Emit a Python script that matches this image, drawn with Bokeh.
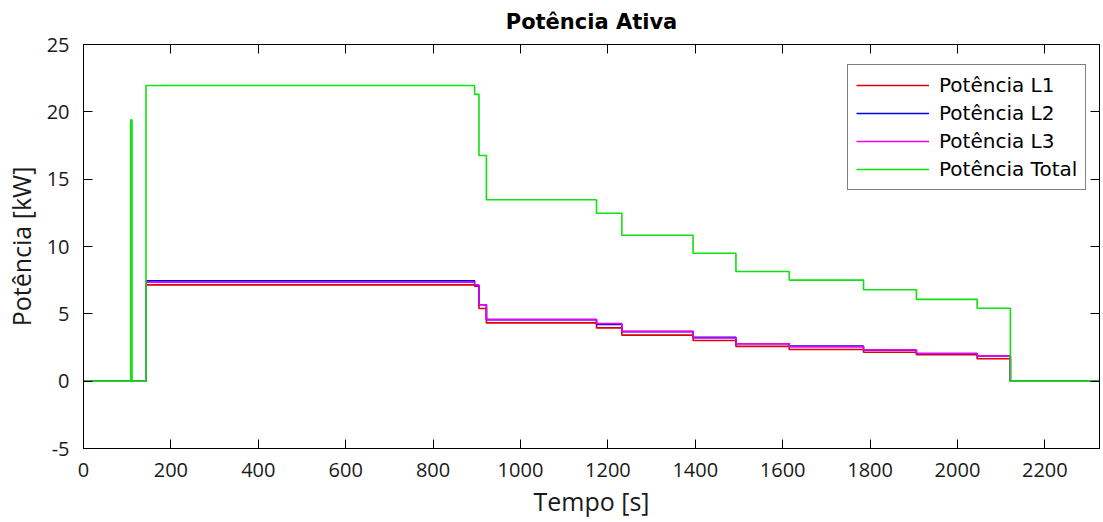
from bokeh.plotting import figure
from bokeh.models import (Legend, LegendItem, LinearAxis, SingleIntervalTicker, Range1d,
                          CustomJSTickFormatter)
from bokeh.embed import file_html
from bokeh.resources import INLINE

# Step change times [s] and levels [kW]
t = [0, 108, 111, 143, 895, 905, 922, 1174, 1232, 1395, 1493, 1615, 1785, 1906, 2045, 2121, 2325]
total = [0, 19.4, 0, 21.95, 21.3, 16.76, 13.47, 12.47, 10.83, 9.5, 8.14, 7.5, 6.79, 6.07, 5.42, 0, 0]
l1 = [0, 0, 0, 7.15, 7.05, 5.4, 4.33, 3.96, 3.42, 3.02, 2.58, 2.35, 2.15, 1.96, 1.66, 0, 0]
l2 = [0, 0, 0, 7.45, 7.1, 5.68, 4.57, 4.22, 3.68, 3.25, 2.78, 2.6, 2.3, 2.05, 1.88, 0, 0]
l3 = [0, 0, 0, 7.35, 7.15, 5.68, 4.57, 4.28, 3.7, 3.2, 2.78, 2.55, 2.32, 2.06, 1.88, 0, 0]

names = ["Potência L1", "Potência L2", "Potência L3", "Potência Total"]
colors = ["#e00000", "#0000ee", "#ee00ee", "#11e011"]

TICK_FONT = "Open Sans"

p = figure(width=1103, height=522, output_backend="svg", toolbar_location=None,
           x_range=Range1d(0, 2325), y_range=Range1d(-5, 25),
           min_border_left=82, min_border_right=0, min_border_top=44, min_border_bottom=74)
p.background_fill_color = "white"
p.border_fill_color = "white"
p.outline_line_color = "black"
p.xgrid.visible = False
p.ygrid.visible = False

p.title.text = "Potência Ativa"
p.title.text_font = "DejaVu Sans"
p.title.text_font_style = "bold"
p.title.text_font_size = "21px"
p.title.align = "center"
p.title.text_color = "black"
p.title.standoff = 14

plain = CustomJSTickFormatter(code="return String(tick);")
p.xaxis.ticker = SingleIntervalTicker(interval=200)
p.yaxis.ticker = SingleIntervalTicker(interval=5)
p.xaxis.formatter = plain
p.yaxis.formatter = CustomJSTickFormatter(code="return String(tick);")

for ax in (p.xaxis[0], p.yaxis[0]):
    ax.major_tick_in = 9
    ax.major_tick_out = 0
    ax.minor_tick_line_color = None
    ax.axis_line_color = "black"
    ax.major_tick_line_color = "black"
    ax.major_label_text_font = TICK_FONT
    ax.major_label_text_font_size = "20px"
    ax.major_label_text_color = "#1a1a1a"
    ax.axis_label_text_font = TICK_FONT
    ax.axis_label_text_font_size = "25px"
    ax.axis_label_text_font_style = "normal"
    ax.axis_label_text_color = "#1a1a1a"

p.xaxis.axis_label = "Tempo [s]"
p.yaxis.axis_label = "Potência [kW]"
p.xaxis.major_label_standoff = 10
p.yaxis.major_label_standoff = 10
p.xaxis.axis_label_standoff = 4
p.yaxis.axis_label_standoff = 6

top = LinearAxis(ticker=SingleIntervalTicker(interval=200), major_label_text_font_size="1px",
                 major_label_text_color=None, major_tick_in=9, major_tick_out=0,
                 minor_tick_line_color=None, major_label_standoff=0, axis_line_color="black")
right = LinearAxis(ticker=SingleIntervalTicker(interval=5), major_label_text_font_size="1px",
                   major_label_text_color=None, major_tick_in=9, major_tick_out=0,
                   minor_tick_line_color=None, major_label_standoff=0, axis_line_color="black")
p.add_layout(top, "above")
p.add_layout(right, "right")

renderers = []
for y, c in zip([l1, l2, l3, total], colors):
    r = p.step(t, y, mode="after", line_color=c, line_width=1.6)
    renderers.append(r)

legend = Legend(items=[LegendItem(label=n, renderers=[r]) for n, r in zip(names, renderers)],
                location=(764, 258))
legend.label_text_font = "DejaVu Sans"
legend.label_text_font_size = "20px"
legend.label_text_color = "black"
legend.glyph_width = 73
legend.glyph_height = 22
legend.label_height = 22
legend.spacing = 4
legend.padding = 8
legend.margin = 0
legend.label_standoff = 10
legend.border_line_color = "black"
legend.border_line_width = 1
legend.background_fill_color = "white"
legend.background_fill_alpha = 1
p.add_layout(legend, "center")

open("out.html", "w").write(file_html(p, INLINE))
